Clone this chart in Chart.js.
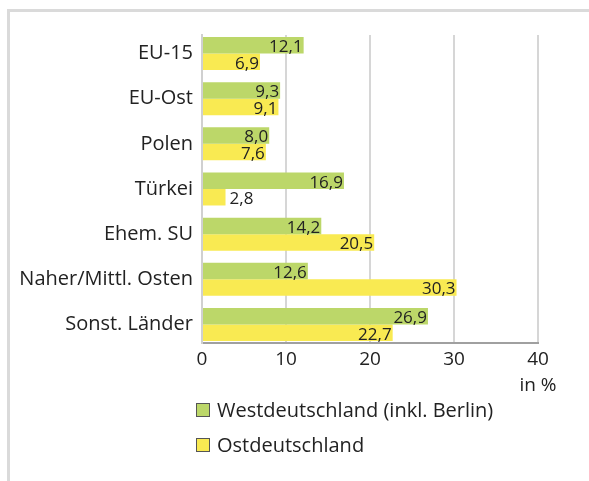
<!DOCTYPE html>
<html><head><meta charset="utf-8">
<script src="https://cdn.jsdelivr.net/npm/chart.js@4/dist/chart.umd.min.js"></script>
<style>
html,body{margin:0;padding:0;background:#fff;}
#wrap{position:relative;width:589px;height:481px;overflow:hidden;}
#frame{position:absolute;left:7px;top:9px;right:-10px;bottom:-10px;border-left:3px solid #dadada;border-top:3px solid #dadada;}
canvas{position:absolute;left:0;top:0;}
.leg{position:absolute;left:196px;font-family:"Open Sans",sans-serif;font-size:20px;color:#222;display:flex;align-items:center;line-height:24px;}
.sw{width:12px;height:12px;border:1px solid #555;margin-right:7px;}
</style></head>
<body><div id="wrap"><div id="frame"></div><canvas id="c" width="589" height="481"></canvas>
<div class="leg" style="top:398px"><span class="sw" style="background:#bcd769"></span>Westdeutschland (inkl. Berlin)</div>
<div class="leg" style="top:433px"><span class="sw" style="background:#f9ea52"></span>Ostdeutschland</div>
</div>
<script>
const categories = ["EU-15","EU-Ost","Polen","Türkei","Ehem. SU","Naher/Mittl. Osten","Sonst. Länder"];
const west = [12.1, 9.3, 8.0, 16.9, 14.2, 12.6, 26.9];
const ost = [6.9, 9.1, 7.6, 2.8, 20.5, 30.3, 22.7];
const xTicks = [0, 10, 20, 30, 40];
const axisUnit = "in %";

const FONT = '"Open Sans", sans-serif';
const toPts = arr => arr.map((v, i) => ({x: v, y: i}));

const labelPlugin = {
  id: 'barLabels',
  afterDatasetsDraw(chart) {
    const ctx = chart.ctx;
    ctx.save();
    ctx.font = '17px ' + FONT;
    ctx.fillStyle = '#222';
    ctx.textBaseline = 'middle';
    chart.data.datasets.forEach((ds, di) => {
      const meta = chart.getDatasetMeta(di);
      meta.data.forEach((bar, i) => {
        const v = ds.data[i].x;
        const txt = v.toFixed(1).replace('.', ',');
        const w = ctx.measureText(txt).width;
        const len = bar.x - bar.base;
        if (w + 4 < len) {
          ctx.textAlign = 'right';
          ctx.fillText(txt, bar.x - 1, bar.y + 2);
        } else {
          ctx.textAlign = 'left';
          ctx.fillText(txt, bar.x + 4, bar.y + 2);
        }
      });
    });
    ctx.restore();
  }
};

new Chart(document.getElementById('c'), {
  type: 'bar',
  data: {
    datasets: [
      {label: 'Westdeutschland (inkl. Berlin)', data: toPts(west), backgroundColor: '#bcd769', borderWidth: 0},
      {label: 'Ostdeutschland', data: toPts(ost), backgroundColor: '#f9ea52', borderWidth: 0}
    ]
  },
  options: {
    indexAxis: 'y',
    responsive: false,
    animation: false,
    layout: {padding: {left: 0, right: 51, top: 35, bottom: 88}},
    datasets: {bar: {categoryPercentage: 0.73, barPercentage: 1}},
    plugins: {legend: {display: false}, tooltip: {enabled: false}},
    scales: {
      x: {
        type: 'linear', min: 0, max: 40, bounds: 'data', offset: false,
        afterBuildTicks: s => { s.ticks = xTicks.map(v => ({value: v})); },
        afterFit: s => { s.height = 50; },
        grid: {color: '#d6d6d6', lineWidth: 2, drawTicks: false, offset: false},
        border: {color: '#a0a0a0', width: 2},
        ticks: {
          padding: 4, color: '#222', font: {family: FONT, size: 19, lineHeight: 1.35},
          callback: (v) => v === 40 ? [String(v), axisUnit] : String(v)
        }
      },
      y: {
        type: 'linear', reverse: true, min: -0.41, max: 6.41, bounds: 'data', offset: false,
        afterBuildTicks: s => { s.ticks = categories.map((_, i) => ({value: i})); },
        afterFit: s => { s.width = 202; },
        grid: {display: false, drawTicks: false, offset: false},
        border: {color: '#d0d0d0', width: 2},
        ticks: {
          padding: 9, color: '#222', font: {family: FONT, size: 20},
          callback: (v) => categories[v] !== undefined ? categories[v] : ''
        }
      }
    }
  },
  plugins: [labelPlugin]
});
</script></body></html>
